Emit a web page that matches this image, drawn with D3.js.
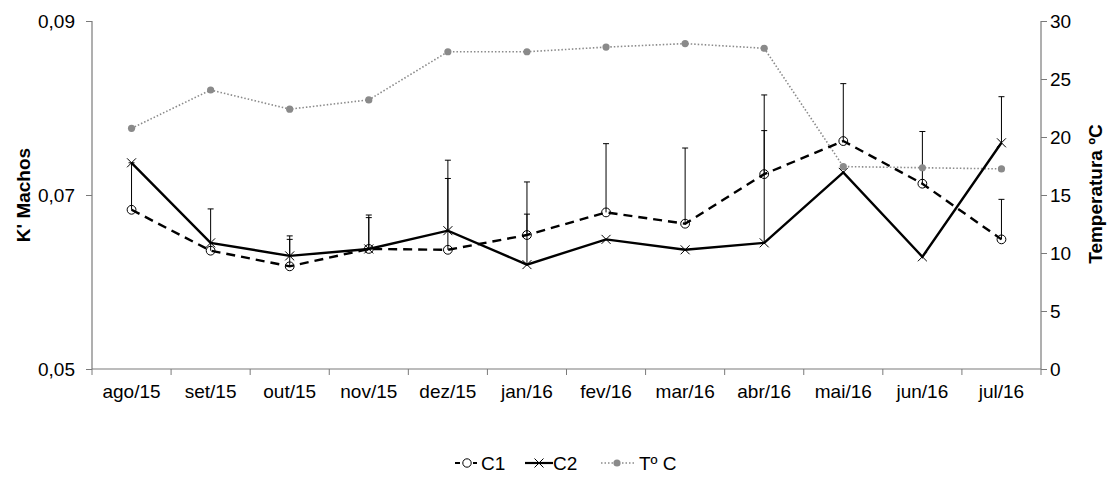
<!DOCTYPE html>
<html>
<head>
<meta charset="utf-8">
<script src="https://cdn.jsdelivr.net/npm/d3@7/dist/d3.min.js"></script>
<style>
  body { margin: 0; background: #fff; }
  svg { display: block; font-family: "Liberation Sans", Arial, sans-serif; }
</style>
</head>
<body>
<svg id="chart" width="1107" height="487"></svg>
<script>
const categories = ["ago/15","set/15","out/15","nov/15","dez/15","jan/16","fev/16","mar/16","abr/16","mai/16","jun/16","jul/16"];
const c1Values = [0.0683, 0.0636, 0.0618, 0.0638, 0.0637, 0.0654, 0.0680, 0.0667, 0.0724, 0.0762, 0.0713, 0.0649];
const c1Errors = [0.0054, 0.0048, 0.0031, 0.0036, 0.0103, 0.0024, 0.0079, 0.0087, 0.0050, 0.0066, 0.0060, 0.0046];
const c2Values = [0.0737, 0.0645, 0.0630, 0.0638, 0.0659, 0.0620, 0.0649, 0.0637, 0.0645, 0.0726, 0.0629, 0.0760];
const c2Errors = [0, 0, 0.0023, 0.0039, 0.0060, 0.0095, 0, 0, 0.0170, 0, 0, 0.0053];
const tempValues = [20.75, 24.05, 22.4, 23.2, 27.35, 27.35, 27.75, 28.05, 27.65, 17.45, 17.35, 17.25];
const leftTicks = [0.05, 0.07, 0.09];
const rightTicks = [0, 5, 10, 15, 20, 25, 30];
const seriesNames = ["C1", "C2", "Tº C"];

(function () {
const svg = d3.select("#chart");
const mLeft = 92, mRight = 1041, mTop = 21, mBottom = 369;
const axisColor = "#7a7a7a";
const tempColor = "#8a8a8a";
const FS = 19;

const x = d3.scaleBand().domain(categories).range([mLeft, mRight]).padding(0);
const yL = d3.scaleLinear().domain([0.05, 0.09]).range([mBottom, mTop]);
const yR = d3.scaleLinear().domain([0, 30]).range([mBottom, mTop]);
const cx = d => x(d) + x.bandwidth() / 2;

// Axes
const gL = svg.append("g").attr("transform", `translate(${mLeft},0)`)
  .call(d3.axisLeft(yL).tickValues(leftTicks).tickSize(6).tickPadding(11)
    .tickFormat(d => d3.format(".2f")(d).replace(".", ",")));
const gR = svg.append("g").attr("transform", `translate(${mRight},0)`)
  .call(d3.axisRight(yR).tickValues(rightTicks).tickSize(6).tickPadding(3));
const gX = svg.append("g").attr("transform", `translate(0,${mBottom})`)
  .call(d3.axisBottom(x).tickSize(0).tickPadding(16));
const bounds = categories.map(c => x(c)).concat([mRight]);
gX.selectAll(".bnd").data(bounds).enter().append("line")
  .attr("x1", d => d).attr("x2", d => d).attr("y1", 0).attr("y2", 6)
  .attr("stroke", axisColor);

[gL, gR, gX].forEach(g => {
  g.select(".domain").attr("stroke", axisColor).attr("stroke-width", 1.2);
  g.selectAll(".tick line").attr("stroke", axisColor);
  g.selectAll("text").attr("font-size", FS).attr("fill", "#000")
    .attr("font-family", "'Liberation Sans', Arial, sans-serif");
});
gL.select(".domain").attr("d", `M0,${mTop}V${mBottom}`);
gR.select(".domain").attr("d", `M0,${mTop}V${mBottom}`);
gX.select(".domain").attr("d", `M${mLeft},0H${mRight}`);

// Axis titles
svg.append("text").attr("transform", `translate(30,195) rotate(-90)`)
  .attr("text-anchor", "middle").attr("font-size", FS).attr("font-weight", "bold")
  .text("K' Machos");
svg.append("text").attr("transform", `translate(1102,194) rotate(-90)`)
  .attr("text-anchor", "middle").attr("font-size", FS).attr("font-weight", "bold")
  .text("Temperatura ºC");

// Error bars
function errorBars(values, errors) {
  const g = svg.append("g").attr("stroke", "#000").attr("stroke-width", 1);
  categories.forEach((c, i) => {
    if (!errors[i]) return;
    const px = cx(c), y0 = yL(values[i]), y1 = yL(values[i] + errors[i]);
    g.append("line").attr("x1", px).attr("x2", px).attr("y1", y0).attr("y2", y1);
    g.append("line").attr("x1", px - 3).attr("x2", px + 3).attr("y1", y1).attr("y2", y1);
  });
}
errorBars(c1Values, c1Errors);
errorBars(c2Values, c2Errors);

// Temperature line
const lineT = d3.line().x((d, i) => cx(categories[i])).y(d => yR(d));
svg.append("path").datum(tempValues).attr("d", lineT).attr("fill", "none")
  .attr("stroke", tempColor).attr("stroke-width", 1.6).attr("stroke-dasharray", "1.5,2");
svg.append("g").selectAll("circle").data(tempValues).enter().append("circle")
  .attr("cx", (d, i) => cx(categories[i])).attr("cy", d => yR(d)).attr("r", 3.6)
  .attr("fill", tempColor);

// C1 and C2 lines
const lineL = d3.line().x((d, i) => cx(categories[i])).y(d => yL(d));
svg.append("path").datum(c1Values).attr("d", lineL).attr("fill", "none")
  .attr("stroke", "#000").attr("stroke-width", 2.4).attr("stroke-dasharray", "9,6");
svg.append("path").datum(c2Values).attr("d", lineL).attr("fill", "none")
  .attr("stroke", "#000").attr("stroke-width", 2.4);

svg.append("g").selectAll("circle").data(c1Values).enter().append("circle")
  .attr("cx", (d, i) => cx(categories[i])).attr("cy", d => yL(d)).attr("r", 4.4)
  .attr("fill", "none").attr("stroke", "#000").attr("stroke-width", 1);

function xMark(g, px, py, s) {
  g.append("path").attr("d", `M${px - s},${py - s}L${px + s},${py + s}M${px - s},${py + s}L${px + s},${py - s}`)
    .attr("stroke", "#000").attr("stroke-width", 1).attr("fill", "none");
}
const gx2 = svg.append("g");
c2Values.forEach((d, i) => xMark(gx2, cx(categories[i]), yL(d), 4.5));

// Legend
const lg = svg.append("g").attr("font-size", FS);
const ly = 463;
lg.append("line").attr("x1", 455).attr("x2", 477).attr("y1", ly).attr("y2", ly)
  .attr("stroke", "#000").attr("stroke-width", 2.2).attr("stroke-dasharray", "5,4");
lg.append("circle").attr("cx", 467).attr("cy", ly).attr("r", 4.2).attr("fill", "#fff")
  .attr("stroke", "#000").attr("stroke-width", 1);
lg.append("text").attr("x", 481).attr("y", ly + 7).text(seriesNames[0]);
lg.append("line").attr("x1", 525).attr("x2", 553).attr("y1", ly).attr("y2", ly)
  .attr("stroke", "#000").attr("stroke-width", 2.2);
xMark(lg, 539, ly, 4.5);
lg.append("text").attr("x", 553).attr("y", ly + 7).text(seriesNames[1]);
lg.append("line").attr("x1", 601).attr("x2", 634).attr("y1", ly).attr("y2", ly)
  .attr("stroke", tempColor).attr("stroke-width", 1.6).attr("stroke-dasharray", "1.5,2");
lg.append("circle").attr("cx", 617).attr("cy", ly).attr("r", 3.6).attr("fill", tempColor);
lg.append("text").attr("x", 639).attr("y", ly + 7).text(seriesNames[2]);
})();
</script>
</body>
</html>
